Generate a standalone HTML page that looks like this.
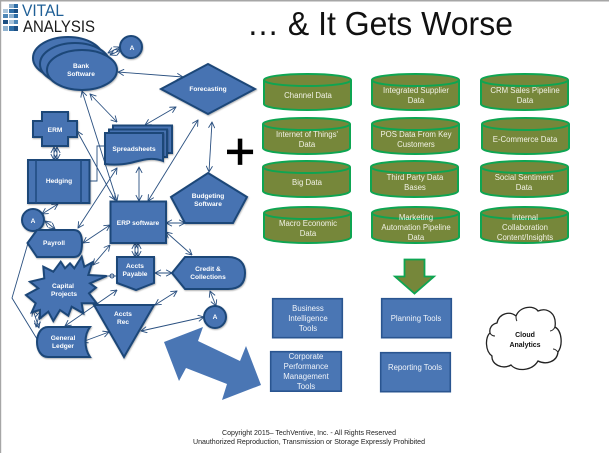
<!DOCTYPE html>
<html><head><meta charset="utf-8"><style>
html,body{margin:0;padding:0;background:#fff}
svg{display:block}
text{font-family:"Liberation Sans",sans-serif}
.w{fill:#fff;font-size:6.6px;font-weight:bold;text-anchor:middle}
.d{fill:#f2f2e6;font-size:7.8px;text-anchor:middle}
.t{fill:#f0f4fa;font-size:7.8px;text-anchor:middle}
.s{fill:#4673b2;stroke:#1c4678;stroke-width:2;filter:url(#sh)}
.l{fill:none;stroke:#2a5080;stroke-width:.9;marker-start:url(#a);marker-end:url(#a)}
.n{fill:none;stroke:#2a5080;stroke-width:.9}
.c{fill:#76873a;stroke:#0ea552;stroke-width:2}
.b{fill:#4a76b4;stroke:#2a5590;stroke-width:1.6}
</style></head><body>
<svg width="609" height="453" viewBox="0 0 609 453" xmlns="http://www.w3.org/2000/svg">
<defs>
<filter id="sh" x="-20%" y="-20%" width="140%" height="140%"><feDropShadow dx=".6" dy="1" stdDeviation=".8" flood-color="#000" flood-opacity=".3"/></filter>
<marker id="a" viewBox="0 0 10 10" refX="9.5" refY="5" markerWidth="7" markerHeight="7" markerUnits="userSpaceOnUse" orient="auto-start-reverse"><path d="M1 .5L9.5 5L1 9.5" fill="none" stroke="#2a5080" stroke-width="1.3"/></marker>
<g id="cy"><path class="c" d="M0 6V30C0 33.5 19 36 43.5 36S87 33.5 87 30V6C87 2.5 68 0 43.5 0S0 2.5 0 6Z"/><path class="c" d="M0 6C0 9.5 19 12 43.5 12S87 9.5 87 6"/></g>
</defs>
<rect x="0" y="0" width="609" height="1.5" fill="#a6a6a6"/>
<rect x="0" y="0" width="1.2" height="453" fill="#a6a6a6"/>

<!-- logo -->
<g fill="#2f6ea6">
<rect x="9" y="4" width="5" height="4" fill="#8fb2cf"/><rect x="14" y="4" width="4" height="4"/>
<rect x="3" y="9" width="5" height="4" fill="#a9c4da"/><rect x="9" y="9" width="5" height="4"/><rect x="14" y="9" width="4" height="4" fill="#1c4f82"/>
<rect x="3" y="14" width="5" height="4" fill="#4d86b6"/><rect x="9" y="14" width="5" height="4" fill="#8fb2cf"/><rect x="14" y="14" width="4" height="4"/>
<rect x="3" y="20" width="5" height="4" fill="#1c4f82"/><rect x="9" y="20" width="5" height="4" fill="#a9c4da"/><rect x="14" y="20" width="4" height="4" fill="#4d86b6"/>
<rect x="3" y="26" width="5" height="5" fill="#8fb2cf"/><rect x="9" y="26" width="5" height="5"/><rect x="14" y="26" width="4" height="5" fill="#1c4f82"/>
</g>
<text x="22" y="16" font-size="17" fill="#1f5f96" textLength="42" lengthAdjust="spacingAndGlyphs">VITAL</text>
<text x="23" y="32" font-size="17" fill="#1a1a1a" textLength="72" lengthAdjust="spacingAndGlyphs">ANALYSIS</text>

<!-- title -->
<text x="247" y="35" font-size="33" fill="#111" textLength="266" lengthAdjust="spacingAndGlyphs">… &amp; It Gets Worse</text>
<text x="240" y="169" font-size="52" stroke="#000" stroke-width=".8" fill="#000" text-anchor="middle">+</text>

<!-- connectors -->
<path class="l" d="M108 53L120 47"/><path class="l" d="M110 55L121 50"/>
<path class="l" d="M118 72L183 77"/>
<path class="l" d="M90 94L117 122"/>
<path class="l" d="M82 91L117 201"/>
<path class="l" d="M77 131L115 200"/>
<path class="l" d="M145 125L176 107"/>
<path class="l" d="M148 201L198 120"/>
<path class="l" d="M139 201L139 167"/>
<path class="l" d="M212 122L209 172"/>
<path class="l" d="M54 147L54 160"/><path class="l" d="M57 147L57 160"/>
<path class="n" d="M90 181H97V146H104"/>
<path class="l" d="M58 204L42 214"/>
<path class="l" d="M117 168L78 228"/>
<path class="l" d="M45 221L55 229"/>
<path class="l" d="M83 243L110 225"/>
<path class="l" d="M93 265L110 245"/>
<path class="l" d="M166 223L185 223"/>
<path class="l" d="M166 232L192 255"/>
<path class="l" d="M135 243L135 257"/><path class="l" d="M138 243L138 257"/>
<path class="n" d="M105 276H117"/><circle cx="112" cy="276" r="2" fill="none" stroke="#2a5080"/>
<path class="l" d="M155 273L172 273"/>
<path class="l" d="M155 305L177 291"/>
<path class="l" d="M141 331L204 317"/>
<path class="l" d="M210 291L216 306"/>
<path class="l" d="M65 326L117 290"/>
<path class="l" d="M82 342L109 332"/>
<path class="l" d="M39 328L33 310"/>
<path class="l" d="M36 327L40 312"/>
<path class="n" d="M28 243L12 298L37 339"/>

<!-- bank -->
<ellipse class="s" cx="68" cy="58" rx="35" ry="21"/>
<ellipse class="s" cx="75" cy="64" rx="35" ry="21"/>
<ellipse class="s" cx="82" cy="70" rx="35" ry="20"/>
<text class="w" x="81" y="68">Bank</text><text class="w" x="81" y="76">Software</text>
<circle class="s" cx="131" cy="47" r="11"/><text class="w" x="132" y="50">A</text>

<!-- forecasting -->
<path class="s" d="M161 89L208 64L255 89L208 114Z"/>
<text class="w" x="208" y="91">Forecasting</text>

<!-- budgeting -->
<path class="s" d="M208 173L247 197L233 223H185L171 197Z"/>
<text class="w" x="208" y="198">Budgeting</text><text class="w" x="208" y="206">Software</text>

<!-- spreadsheets -->
<path class="s" d="M113 125.500H172V153H113Z"/>
<path class="s" d="M109 129.500H167V157H109Z"/>
<path class="s" d="M105 133H163V161C150 156 140 161 130 163C120 165 112 165 105 164Z"/>
<text class="w" x="134" y="151">Spreadsheets</text>

<!-- ERM -->
<path class="s" d="M42 112H68V121H77V137H68V146H42V137H33V121H42Z"/>
<text class="w" x="55" y="132">ERM</text>

<!-- hedging -->
<rect class="s" x="28" y="160" width="61.500" height="43"/>
<path class="n" style="stroke:#1f4a80;stroke-width:1.500" d="M36 160V203M81 160V203"/>
<text class="w" x="59" y="183">Hedging</text>

<circle class="s" cx="33" cy="220" r="11"/><text class="w" x="33" y="223">A</text>

<!-- ERP -->
<rect class="s" x="110.500" y="201.500" width="55.500" height="41.500"/>
<text class="w" x="138" y="225">ERP software</text>

<!-- payroll -->
<path class="s" d="M27.500 243L37 230H74C80 230 82 235 82 243C82 252 80 257 74 257H37Z"/>
<text class="w" x="54" y="245">Payroll</text>

<!-- capital -->
<path class="s" d="M26 295L38.300 288.300L30 281.700L44.300 278.300L43.300 266.700L53.300 271.700L60.700 261.700L65 268.300L70 263.300L74.300 268.300L81.700 256.700L84.300 266.700L92.300 262.300L88.300 275L106.700 276L90 283.300L96 287.700L89 293.300L96.700 303.300L81.700 303.300L83.300 313.300L71.700 306.700L68.300 315.700L60 310L53.300 321L48.300 311.700L40 318.300L40 310L31.700 312.300L35.700 303.300Z"/>
<text class="w" x="63" y="288">Capital</text><text class="w" x="64" y="296">Projects</text>

<!-- payable -->
<path class="s" d="M117 257H154V283L136 290L117 283Z"/>
<text class="w" x="135" y="268">Accts</text><text class="w" x="135" y="276">Payable</text>

<!-- credit -->
<path class="s" d="M172 273L185 257H228C240 257 245 264 245 273C245 283 240 289 228 289H185Z"/>
<text class="w" x="208" y="271">Credit &amp;</text><text class="w" x="208" y="279">Collections</text>

<!-- rec -->
<path class="s" d="M94 305H154L124 357Z"/>
<text class="w" x="123" y="316">Accts</text><text class="w" x="123" y="324">Rec</text>

<!-- ledger -->
<path class="s" d="M48 327H90C84 335 84 348 90 357H48C41 357 37 350 37 342C37 334 41 327 48 327Z"/>
<text class="w" x="63" y="340">General</text><text class="w" x="63" y="348">Ledger</text>

<circle class="s" cx="215" cy="317" r="11"/><text class="w" x="215" y="319">A</text>

<!-- big arrow -->
<path d="M164 342L203 327L198 341L240 361L246 346L261 385L222 400L227 384L186 368L179 381Z" fill="#4a76b4"/>

<!-- cylinders -->
<use href="#cy" x="264" y="74"/><use href="#cy" x="372" y="74"/><use href="#cy" x="481" y="74"/>
<use href="#cy" x="263" y="118"/><use href="#cy" x="372" y="118"/><use href="#cy" x="482" y="118"/>
<use href="#cy" x="263" y="161"/><use href="#cy" x="371" y="161"/><use href="#cy" x="481" y="161"/>
<use href="#cy" x="264" y="207"/><use href="#cy" x="372" y="207"/><use href="#cy" x="481" y="207"/>

<text class="d" x="308" y="98">Channel  Data</text>
<text class="d" x="416" y="93">Integrated Supplier</text><text class="d" x="416" y="103">Data</text>
<text class="d" x="525" y="93">CRM Sales Pipeline</text><text class="d" x="525" y="103">Data</text>
<text class="d" x="307" y="137">Internet of Things'</text><text class="d" x="307" y="147">Data</text>
<text class="d" x="416" y="137">POS Data From Key</text><text class="d" x="416" y="147">Customers</text>
<text class="d" x="525" y="142">E-Commerce   Data</text>
<text class="d" x="307" y="185">Big Data</text>
<text class="d" x="415" y="180">Third Party Data</text><text class="d" x="415" y="190">Bases</text>
<text class="d" x="524" y="180">Social Sentiment</text><text class="d" x="524" y="190">Data</text>
<text class="d" x="308" y="226">Macro Economic</text><text class="d" x="308" y="236">Data</text>
<text class="d" x="416" y="220">Marketing</text><text class="d" x="416" y="230">Automation  Pipeline</text><text class="d" x="416" y="240">Data</text>
<text class="d" x="525" y="220">Internal</text><text class="d" x="525" y="230">Collaboration</text><text class="d" x="525" y="240">Content/Insights</text>

<!-- down arrow -->
<path d="M404.500 259.500H424.500V276.500H434L414.500 293.500L395 276.500H404.500Z" fill="#76873a" stroke="#0ea552" stroke-width="1.800"/>

<!-- tools -->
<rect class="b" x="272.700" y="298.700" width="69.600" height="39"/>
<text class="t" x="308" y="311">Business</text><text class="t" x="308" y="321">Intelligence</text><text class="t" x="308" y="331">Tools</text>
<rect class="b" x="381.700" y="298.700" width="69.600" height="39"/>
<text class="t" x="416" y="321">Planning  Tools</text>
<rect class="b" x="270.700" y="351.700" width="70.600" height="39.500"/>
<text class="t" x="306" y="359">Corporate</text><text class="t" x="306" y="369">Performance</text><text class="t" x="306" y="379">Management</text><text class="t" x="306" y="389">Tools</text>
<rect class="b" x="380.700" y="352.700" width="69.600" height="39"/>
<text class="t" x="415" y="370">Reporting  Tools</text>

<!-- cloud -->
<path d="M497 323C499 313 510 311 516 316C520 306 534 305 538 311C547 307 557 313 555 327C562 331 563 345 558 352C557 362 546 365 538 361C532 371 517 372 511 365C502 370 491 364 492 356C485 351 485 337 490 333C489 328 492 324 497 323Z" fill="#fff" stroke="#222" stroke-width="1.300"/>
<path d="M516 316C516 318 516 320 517 321M490 333C491 335 493 336 495 336M555 327C554 329 552 331 550 331M558 352C556 350 555 349 553 349" fill="none" stroke="#222" stroke-width="1"/>
<text x="525" y="337" font-size="7" font-weight="bold" fill="#111" text-anchor="middle">Cloud</text>
<text x="525" y="347" font-size="7" font-weight="bold" fill="#111" text-anchor="middle">Analytics</text>

<!-- footer -->
<text x="222" y="435" font-size="7.200" fill="#222" textLength="174" lengthAdjust="spacingAndGlyphs">Copyright 2015– TechVentive, Inc. - All Rights Reserved</text>
<text x="193" y="444" font-size="7.200" fill="#222" textLength="232" lengthAdjust="spacingAndGlyphs">Unauthorized Reproduction, Transmission or Storage Expressly Prohibited</text>
</svg>
</body></html>
